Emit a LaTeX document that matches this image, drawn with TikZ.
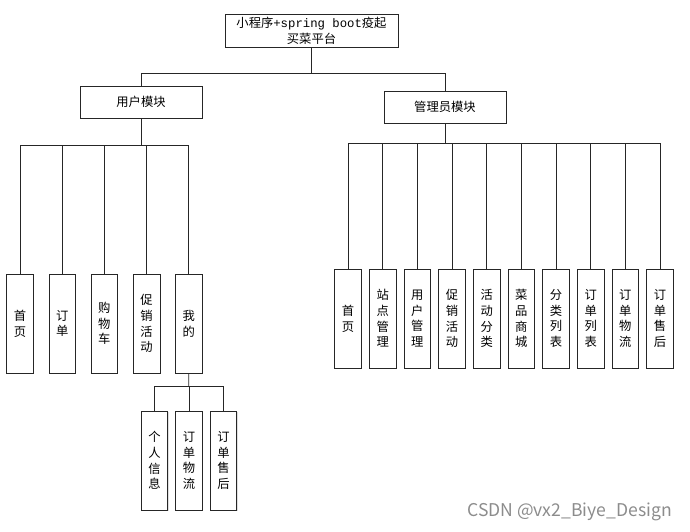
\documentclass[tikz,border=0pt]{standalone}
\usepackage{fontspec}
\setmainfont{Noto Sans CJK SC}
\setmonofont{Liberation Mono}
\usetikzlibrary{shadows}
\tikzset{
  box/.style={draw=black!85,fill=white,line width=0.6pt,inner sep=0pt,
    drop shadow={shadow xshift=0.6pt,shadow yshift=-0.6pt,fill=black!25}},
  modbox/.style={box,minimum width=3.66cm,minimum height=0.96cm},
  leaf/.style={box,minimum width=0.8cm,minimum height=2.97cm,align=center},
  link/.style={draw=black!85,line width=0.6pt}
}
\begin{document}
\begin{tikzpicture}[x=0.03cm,y=-0.03cm,font=\fontsize{10.5pt}{13.4pt}\selectfont]
  \useasboundingbox (0,0) rectangle (690,532);
  % top and modules
  \node[box,minimum width=5.19cm,minimum height=0.99cm,align=center] (root) at (311.5,31)
    {小程序\texttt{+spring boot}疫起\\买菜平台};
  \node[modbox] (user) at (141,102) {用户模块};
  \node[modbox] (admin) at (445,107) {管理员模块};
  \coordinate (rootbar) at (311.5,73);
  \draw[link] (root.south) -- (rootbar);
  \draw[link] (rootbar) -| (user.north);
  \draw[link] (rootbar) -| (admin.north);
  % user leaves
  \coordinate (userbar) at (141,145);
  \draw[link] (user.south) -- (userbar);
  \foreach \t [count=\i] in {{首\\页},{订\\单},{购\\物\\车},{促\\销\\活\\动},{我\\的}} {
    \node[leaf] (u\i) at ({20+42.2*(\i-1)},323.5) {\t};
    \draw[link] (userbar) -| (u\i.north);
  }
  % my sub leaves
  \coordinate (minebar) at (188.8,386);
  \draw[link] (u5.south) -- (minebar);
  \foreach \t [count=\i] in {{个\\人\\信\\息},{订\\单\\物\\流},{订\\单\\售\\后}} {
    \node[leaf] (m\i) at ({154.5+34.5*(\i-1)},460.5) {\t};
    \draw[link] (minebar) -| (m\i.north);
  }
  % admin leaves
  \coordinate (adminbar) at (445,143);
  \draw[link] (admin.south) -- (adminbar);
  \foreach \t [count=\i] in {{首\\页},{站\\点\\管\\理},{用\\户\\管\\理},{促\\销\\活\\动},{活\\动\\分\\类},
      {菜\\品\\商\\城},{分\\类\\列\\表},{订\\单\\列\\表},{订\\单\\物\\流},{订\\单\\售\\后}} {
    \node[leaf] (a\i) at ({348+34.67*(\i-1)},318.5) {\t};
    \draw[link] (adminbar) -| (a\i.north);
  }
  \node[text=black!45,font=\fontsize{15pt}{17pt}\selectfont,anchor=east] (mark) at (676,512)
    {CSDN @vx2\_Biye\_Design};
\end{tikzpicture}
\end{document}
